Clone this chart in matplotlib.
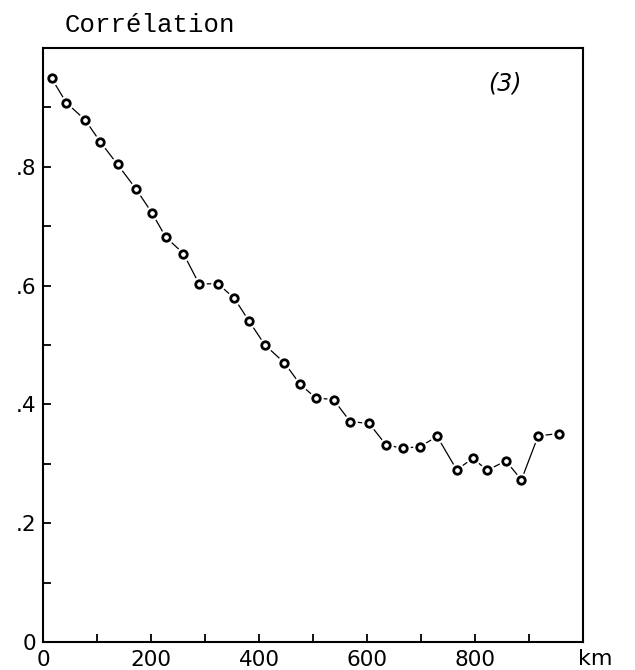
import matplotlib
matplotlib.use("Agg")
import matplotlib.pyplot as plt
from matplotlib.ticker import FixedLocator, FixedFormatter

# distance (km) and correlation
DIST = [16, 43, 78, 106, 138, 172, 202, 227, 260, 289, 324, 354, 381, 411, 447,
        476, 505, 538, 569, 604, 635, 666, 698, 730, 766, 796, 823, 857, 886,
        917, 956]
CORR = [0.949, 0.908, 0.879, 0.842, 0.804, 0.763, 0.722, 0.682, 0.654, 0.603,
        0.603, 0.579, 0.541, 0.500, 0.470, 0.434, 0.411, 0.408, 0.371, 0.368,
        0.332, 0.326, 0.329, 0.346, 0.290, 0.309, 0.289, 0.305, 0.273, 0.347,
        0.351]

X_TICKS = [0, 200, 400, 600, 800]
X_LABELS = ["0", "200", "400", "600", "800"]
Y_TICKS = [0, 0.2, 0.4, 0.6, 0.8]
Y_LABELS = ["0", ".2", ".4", ".6", ".8"]

fig = plt.figure(figsize=(6.35, 6.7), dpi=100)
ax = fig.add_axes([43 / 635, 1 - 642 / 670, (583 - 43) / 635, (642 - 48) / 670])

# line, then white halo so segments stop short of the circles, then open circles
ax.plot(DIST, CORR, color="black", lw=0.9, zorder=2)
ax.plot(DIST, CORR, ls="none", marker="o", ms=10.5, mfc="white", mec="none", zorder=3)
ax.plot(DIST, CORR, ls="none", marker="o", ms=5.4, mfc="white", mec="black",
        mew=2.0, zorder=4)

ax.set_xlim(0, 1000)
ax.set_ylim(0, 1.0)

ax.xaxis.set_major_locator(FixedLocator(X_TICKS))
ax.xaxis.set_major_formatter(FixedFormatter(X_LABELS))
ax.xaxis.set_minor_locator(FixedLocator([100, 300, 500, 700, 900]))
ax.yaxis.set_major_locator(FixedLocator(Y_TICKS))
ax.yaxis.set_major_formatter(FixedFormatter(Y_LABELS))
ax.yaxis.set_minor_locator(FixedLocator([0.1, 0.3, 0.5, 0.7, 0.9]))

ax.tick_params(axis="both", which="both", direction="in", length=6, width=1.3,
               labelsize=15.5)
ax.tick_params(axis="x", which="major", pad=6)
ax.tick_params(axis="y", which="major", pad=5)
for lbl in ax.get_xticklabels() + ax.get_yticklabels():
    lbl.set_family("DejaVu Sans")

for s in ax.spines.values():
    s.set_linewidth(1.5)

ax.text(1022, -0.012, "km", ha="center", va="top", fontsize=16,
        family="DejaVu Sans", clip_on=False)
ax.text(0.855, 0.94, "(3)", transform=ax.transAxes, ha="center", va="center",
        fontsize=17, style="italic", family="DejaVu Sans")

fig.text(65 / 635, 1 - 32 / 670, "Corrélation", ha="left", va="baseline",
         fontsize=18.5, family="Liberation Mono")

fig.savefig("out.png", dpi=100, facecolor="white")
